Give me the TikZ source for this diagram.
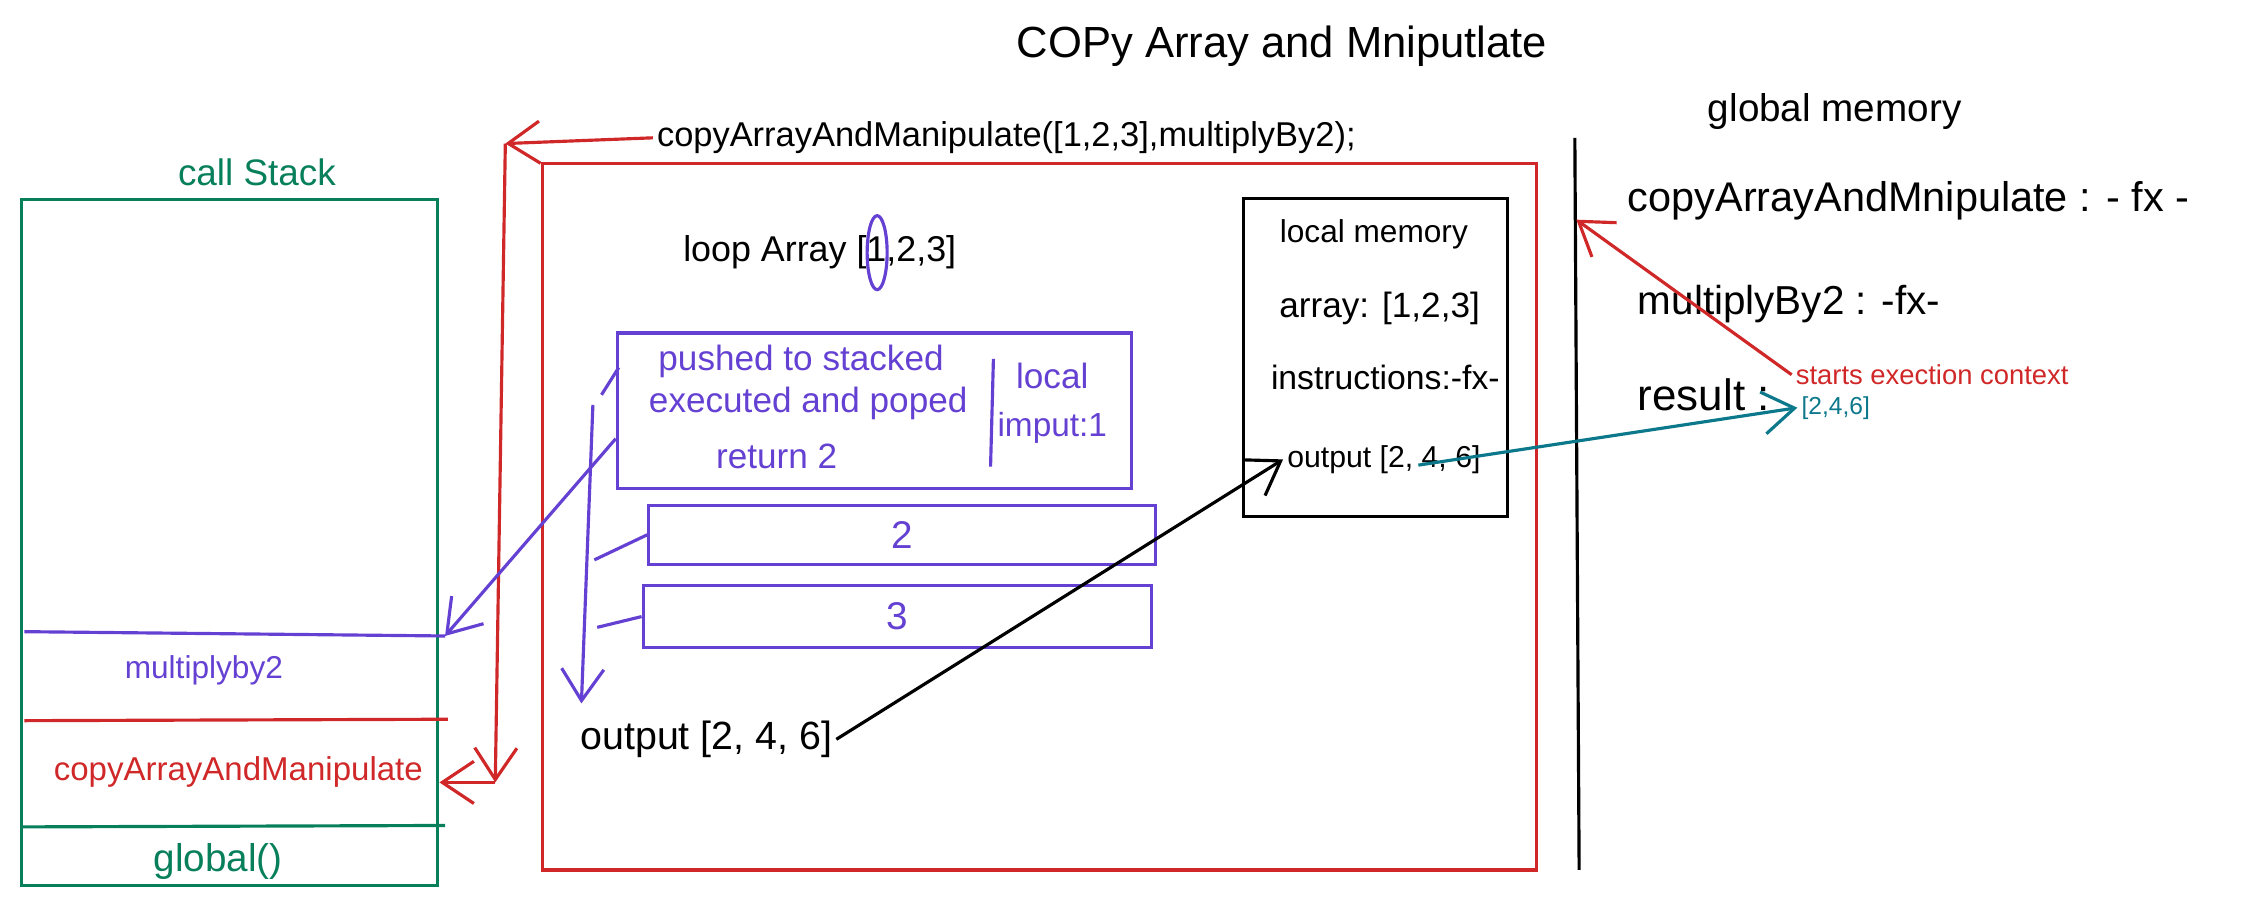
\documentclass[tikz,border=0pt]{standalone}
\usepackage{fontspec}
\setmainfont{Liberation Sans}
\usepackage{tikz}
\usetikzlibrary{arrows.meta, fit}
\definecolor{stackgreen}{RGB}{8,127,91}
\definecolor{callred}{RGB}{208,40,40}
\definecolor{loopviolet}{RGB}{100,65,210}
\definecolor{resultteal}{RGB}{12,120,140}

\begin{document}
\begin{tikzpicture}[x=0.014356cm, y=-0.014356cm,
    >={Straight Barb[length=9pt, width=12pt]},
    sketchbox/.style={draw, line width=0.9pt, inner sep=0pt},
    txt/.style={inner sep=1pt, font=\fontsize{#1}{#1}\selectfont},
    txt/.default=9,
    flow/.style={->, line width=0.9pt},
    tick/.style={line width=0.9pt}]

    \useasboundingbox (0,0) rectangle (1568,630);

    % Titles
    \node[txt=12.4] (title) at (893,32) {COPy Array and Mniputlate};
    \node[txt=9.8] (call) at (701,96) {copyArrayAndManipulate([1,2,3],multiplyBy2);};

    % Call stack
    \node[txt=10.5, text=stackgreen] (stacklabel) at (179,120) {call Stack};
    \node[sketchbox, draw=stackgreen, fit={(15,139) (305,617)}] (stack) {};
    \draw[tick, loopviolet] (17,440) -- (310,443) coordinate (mulframe);
    \draw[tick, callred] (17,502) -- (312,501);
    \draw[tick, stackgreen] (15,576) -- (310,575);
    \node[txt=9, text=loopviolet] (mulitem) at (142,467) {multiplyby2};
    \node[txt=9.4, text=callred] (copyitem) at (166,538) {copyArrayAndManipulate};
    \node[txt=11, text=stackgreen] (globalitem) at (152,600) {global()};

    % Execution context of copyArrayAndManipulate
    \node[sketchbox, draw=callred, fit={(378,114) (1070,606)}] (context) {};
    \node[txt=10.2] (loop) at (571,176) {loop Array [1,2,3]};
    \draw[tick, loopviolet] (611,176) ellipse [x radius=0.1cm, y radius=0.37cm];

    \node[sketchbox, draw=loopviolet, fit={(430,232) (788,340)}] (exec) {};
    \draw[tick, loopviolet] (692,250) -- (690,325);
    \node[txt=10, text=loopviolet] (pushed) at (558,252) {pushed to stacked};
    \node[txt=10, text=loopviolet] (executed) at (563,281) {executed and poped};
    \node[txt=10, text=loopviolet] (return) at (541,318) {return 2};
    \node[txt=10, text=loopviolet] (localin) at (733,262) {local};
    \node[txt=9.5, text=loopviolet] (input) at (733,298) {imput:1};

    \node[sketchbox, draw=loopviolet, fit={(452,352) (805,393)}] (second) {};
    \node[txt=11, text=loopviolet] at (second.center) {2};
    \node[sketchbox, draw=loopviolet, fit={(448,408) (802,451)}] (third) {};
    \node[txt=11, text=loopviolet] at (third.center) {3};

    \coordinate (looptop) at (413,282);
    \coordinate (loopend) at (405,490);
    \draw[flow, loopviolet] (looptop) -- (loopend);
    \draw[tick, loopviolet] (431,256) -- (419,275);
    \draw[tick, loopviolet] (second.west) -- (414,390);
    \draw[tick, loopviolet] (third.west) -- (416,437);

    \node[txt=11.2] (output) at (492,515) {output [2, 4, 6]};

    % Local memory
    \node[sketchbox, fit={(866,138) (1050,360)}] (local) {};
    \node[txt=9] (localhead) at (957,163) {local memory};
    \node[txt=10] (localarray) at (961,215) {array: [1,2,3]};
    \node[txt=9.6] (localinstr) at (965,263) {instructions:-fx-};
    \node[txt=8.6] (localout) at (964,320) {output [2, 4, 6]};

    % Global memory
    \draw[tick] (1097,96) -- (1100,606);
    \node[txt=11] (globalhead) at (1278,78) {global memory};
    \node[txt=11.8, anchor=west] (globalcopy) at (1131,140) {copyArrayAndMnipulate : - fx -};
    \node[txt=11.5, anchor=west] (globalmul) at (1138,212) {multiplyBy2 : -fx-};
    \node[txt=12.5, anchor=west] (globalres) at (1138,275) {result :};
    \node[txt=7, text=resultteal, anchor=west] (resval) at (1252,284) {[2,4,6]};
    \node[txt=7.8, text=callred, anchor=west] (starts) at (1248,261) {starts exection context};

    % Flow of the call
    \coordinate (callbend) at (352,100);
    \coordinate (stackbend) at (345,545);
    \coordinate (globalhit) at (1098,153);
    \coordinate (strikestart) at (988,324);
    \draw[flow, callred] (call.west) -- (callbend);
    \draw[flow, callred] (callbend) -- (stackbend);
    \draw[flow, callred] (stackbend) -- (stack.east |- stackbend);
    \draw[flow, callred] (starts.west) -- (globalhit);
    \draw[flow, loopviolet] ([yshift=-8pt]exec.west) -- (mulframe);
    \draw[flow] (output.east) -- (localout.west);
    \draw[flow, resultteal] (strikestart) -- (resval.west);
\end{tikzpicture}
\end{document}
